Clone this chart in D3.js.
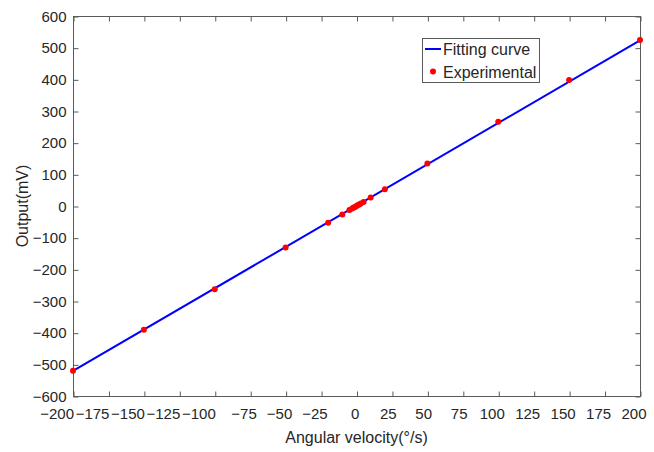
<!DOCTYPE html>
<html>
<head>
<meta charset="utf-8">
<script src="https://cdn.jsdelivr.net/npm/d3@7/dist/d3.min.js"></script>
<style>
  html, body { margin: 0; padding: 0; background: #fff; }
  svg { display: block; font-family: "Liberation Sans", Arial, sans-serif; }
</style>
</head>
<body>
<svg id="chart" width="654" height="452"></svg>
<script>
// Data
const angularVelocity = [-200, -150, -100, -50, -20, -10, -5, -3, -2, -1, 0, 1, 2, 3, 5, 10, 20, 50, 100, 150, 200];
const outputMV       = [-520, -391, -263, -131, -53, -27, -13, -8, -5, -3, 0, 3, 5, 8, 13, 27, 53, 134, 266, 398, 524];
const fitX = [-200, 200];
const fitY = [-521, 523];
const xTicks = [-200, -175, -150, -125, -100, -75, -50, -25, 0, 25, 50, 75, 100, 125, 150, 175, 200];
const yTicks = [-600, -500, -400, -300, -200, -100, 0, 100, 200, 300, 400, 500, 600];
const legendLabels = ["Fitting curve", "Experimental"];

const svg = d3.select("#chart");
const m = { left: 73, right: 640, top: 16, bottom: 396 };
const x = d3.scaleLinear().domain([-200, 200]).range([m.left, m.right]);
const y = d3.scaleLinear().domain([-600, 600]).range([m.bottom, m.top]);

const axisColor = "#5a5a5a";
const textColor = "#262626";
const fmt = d => (d < 0 ? "\u2212" + Math.abs(d) : String(d));

// box
svg.append("rect")
  .attr("x", m.left + 0.5).attr("y", m.top + 0.5)
  .attr("width", m.right - m.left).attr("height", m.bottom - m.top)
  .attr("fill", "none").attr("stroke", axisColor).attr("stroke-width", 1);

const tl = 5;
function styleAxis(g) {
  g.select(".domain").remove();
  g.selectAll(".tick line").attr("stroke", axisColor);
  g.selectAll(".tick text").attr("fill", textColor).attr("font-size", 15);
}
// bottom axis (inward ticks)
const xg = svg.append("g").attr("transform", `translate(0.5,${m.bottom + 0.5})`)
  .call(d3.axisBottom(x).tickValues(xTicks).tickFormat(fmt).tickSizeInner(-tl).tickSizeOuter(0).tickPadding(11.5))
  .call(styleAxis);
// the reference's crowded labels sit a little left of their ticks
xg.selectAll(".tick text").each(function(d) {
  const w = this.getComputedTextLength();
  d3.select(this).attr("dx", d <= -100 ? -0.5 * w : -0.28 * w);
});
// top axis ticks
svg.append("g").attr("transform", `translate(0.5,${m.top + 0.5})`)
  .call(d3.axisTop(x).tickValues(xTicks).tickFormat("").tickSizeInner(-tl).tickSizeOuter(0))
  .call(styleAxis);
// left axis
svg.append("g").attr("transform", `translate(${m.left + 0.5},0.5)`)
  .call(d3.axisLeft(y).tickValues(yTicks).tickFormat(fmt).tickSizeInner(-tl).tickSizeOuter(0).tickPadding(7))
  .call(styleAxis);
// right axis ticks
svg.append("g").attr("transform", `translate(${m.right + 0.5},0.5)`)
  .call(d3.axisRight(y).tickValues(yTicks).tickFormat("").tickSizeInner(-tl).tickSizeOuter(0))
  .call(styleAxis);

// fitting line
const line = d3.line().x(d => x(d[0])).y(d => y(d[1]));
svg.append("path")
  .datum(fitX.map((v, i) => [v, fitY[i]]))
  .attr("d", line)
  .attr("fill", "none").attr("stroke", "#0000ff").attr("stroke-width", 2);

// experimental points
svg.append("g").selectAll("circle")
  .data(angularVelocity.map((v, i) => [v, outputMV[i]]))
  .join("circle")
  .attr("cx", d => x(d[0])).attr("cy", d => y(d[1]))
  .attr("r", 3).attr("fill", "#ff0000");

// axis titles
svg.append("text")
  .attr("x", (m.left + m.right) / 2).attr("y", 443)
  .attr("text-anchor", "middle").attr("font-size", 16).attr("fill", textColor)
  .text("Angular velocity(°/s)");
svg.append("text")
  .attr("transform", `translate(28,${(m.top + m.bottom) / 2}) rotate(-90)`)
  .attr("text-anchor", "middle").attr("font-size", 16).attr("fill", textColor)
  .text("Output(mV)");

// legend
const lg = svg.append("g");
lg.append("rect").attr("x", 422.5).attr("y", 38.5).attr("width", 117).attr("height", 44)
  .attr("fill", "#fff").attr("stroke", axisColor);
lg.append("line").attr("x1", 425).attr("x2", 441).attr("y1", 49).attr("y2", 49)
  .attr("stroke", "#0000ff").attr("stroke-width", 2);
lg.append("circle").attr("cx", 433).attr("cy", 71.5).attr("r", 3).attr("fill", "#ff0000");
lg.selectAll("text.lab").data(legendLabels).join("text").attr("class", "lab")
  .attr("x", 443).attr("y", (d, i) => 55 + i * 22.5)
  .attr("font-size", 16).attr("fill", textColor).text(d => d);
</script>
</body>
</html>
